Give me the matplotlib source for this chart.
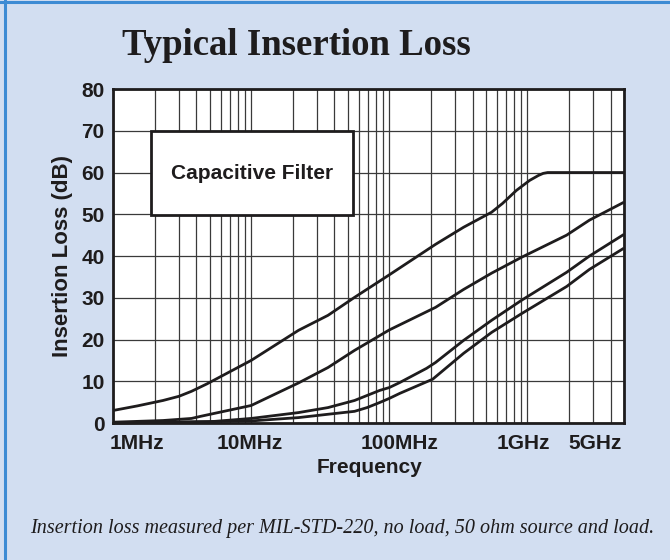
import matplotlib
matplotlib.use('Agg')
import matplotlib.pyplot as plt
import matplotlib.transforms as mtransforms
from matplotlib.patches import Rectangle
from matplotlib.lines import Line2D

# frequency in MHz, insertion loss in dB (four capacitance values)
f1 = [1, 1.5, 2.3, 3.0, 3.7, 4.8, 7.3, 10, 22, 36, 56, 100, 216, 345, 550, 660, 830, 1035, 1200, 1300, 1400, 5000]
il1 = [3.0, 4.1, 5.4, 6.4, 7.6, 9.4, 12.6, 15.0, 22.2, 25.8, 30.1, 35.5, 42.8, 46.9, 50.5, 52.6, 55.7, 58.1, 59.3, 59.8, 60.0, 60.0]

f2 = [1, 2.3, 3.7, 4.3, 10, 22, 36, 56, 100, 216, 345, 550, 906, 1920, 2810, 5000]
il2 = [0.2, 0.6, 1.1, 1.6, 4.2, 9.6, 13.3, 17.4, 22.3, 27.7, 32.0, 35.9, 39.7, 45.0, 48.6, 52.9]

f3 = [1, 5, 10, 22, 36, 56, 85, 100, 119, 186, 216, 345, 550, 906, 1920, 2810, 5000]
il3 = [0.0, 0.3, 1.1, 2.5, 3.7, 5.4, 7.8, 8.5, 9.7, 13.1, 14.5, 19.8, 24.6, 29.4, 36.1, 40.0, 45.2]

f4 = [1, 10, 22, 36, 56, 69, 85, 100, 119, 206, 345, 550, 906, 1920, 2810, 5000]
il4 = [0.0, 0.5, 1.3, 2.1, 2.8, 3.7, 4.9, 5.9, 7.1, 10.5, 16.7, 21.7, 26.2, 32.7, 36.8, 41.9]

xticks = [1, 10, 100, 1000, 5000]
xticklabels = ['1MHz', '10MHz', '100MHz', '1GHz', '5GHz']
yticks = [0, 10, 20, 30, 40, 50, 60, 70, 80]

ink = '#1E1C1D'
bg = '#D2DEF1'

plt.rcParams['font.family'] = ['Liberation Sans', 'DejaVu Sans']

fig = plt.figure(figsize=(6.7, 5.6), dpi=100)
fig.patch.set_facecolor(bg)

# blue frame on the left and top edge
fig.add_artist(Line2D([0.008, 0.008], [0, 1], color='#3D8BD4', lw=2.2, transform=fig.transFigure))
fig.add_artist(Line2D([0, 1], [0.997, 0.997], color='#3D8BD4', lw=2.2, transform=fig.transFigure))

ax = fig.add_axes([0.1687, 0.2446, 0.7627, 0.5964])
ax.set_facecolor('white')
ax.set_xscale('log')
ax.set_xlim(1, 5000)
ax.set_ylim(0, 80)

minor = [k * 10 ** d for d in range(4) for k in range(2, 10) if k * 10 ** d < 5000]
ax.set_xticks(xticks)
ax.set_xticks(minor, minor=True)
ax.set_xticklabels(xticklabels, fontsize=15, fontweight='bold', color=ink)
ax.set_yticks(yticks)
ax.set_yticklabels([str(v) for v in yticks], fontsize=15, fontweight='bold', color=ink)
ax.tick_params(which='both', length=0)
ax.tick_params(axis='x', pad=8)
ax.tick_params(axis='y', pad=6)
ax.grid(which='both', color='#3a3a3a', lw=0.9)
ax.set_axisbelow(True)

# nudge the x tick labels
labels = ax.get_xticklabels()
labels[0].set_ha('left')
labels[-1].set_ha('right')
for lab, dx in zip(labels, [-3, -1, 10, -4, -2]):
    lab.set_transform(lab.get_transform() + mtransforms.ScaledTranslation(dx / 100, 0, fig.dpi_scale_trans))

for s in ax.spines.values():
    s.set_linewidth(2.0)
    s.set_color(ink)
    s.set_zorder(5)

for f, il in [(f1, il1), (f2, il2), (f3, il3), (f4, il4)]:
    ax.plot(f, il, color=ink, lw=2.0, solid_capstyle='butt', solid_joinstyle='round', zorder=3, clip_on=False)

ax.add_patch(Rectangle((0.0744, 0.623), 0.3956, 0.251, transform=ax.transAxes,
                       facecolor='white', edgecolor=ink, lw=2.0, zorder=4))
ax.text(0.272, 0.7485, 'Capacitive Filter', transform=ax.transAxes, ha='center', va='center',
        fontsize=15, fontweight='bold', color=ink, zorder=6)

fig.text(0.551, 0.166, 'Frequency', ha='center', va='center', fontsize=15, fontweight='bold', color=ink)
fig.text(0.093, 0.543, 'Insertion Loss (dB)', ha='center', va='center', rotation=90,
         fontsize=16, fontweight='bold', color=ink)

fig.text(0.443, 0.918, 'Typical Insertion Loss', ha='center', va='center',
         family='Liberation Serif', fontsize=26.5, fontweight='bold', color=ink)
fig.text(0.511, 0.057, 'Insertion loss measured per MIL-STD-220, no load, 50 ohm source and load.',
         ha='center', va='center', family='Liberation Serif', style='italic', fontsize=14.5, color=ink)

fig.savefig('out.png', dpi=100, facecolor=bg)
